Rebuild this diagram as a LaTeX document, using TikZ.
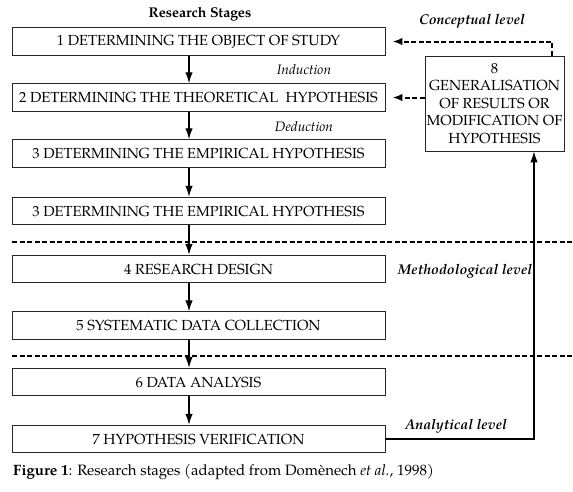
\documentclass[tikz,border=0pt]{standalone}
\usepackage{fontspec}
\setmainfont{TeX Gyre Pagella}
\usetikzlibrary{arrows.meta}
\tikzset{
  stagebox/.style={draw=black!85, line width=0.9pt, minimum width=373pt, minimum height=27.5pt, inner sep=0pt, font=\fontsize{14.6}{16}\selectfont},
  flow/.style={line width=1.3pt, -{Latex[length=11pt,width=7.5pt]}},
  dflow/.style={line width=2pt, dash pattern=on 5pt off 2.5pt, -{Latex[length=10pt,width=7.5pt]}},
  levelline/.style={line width=1.7pt, dash pattern=on 5pt off 2.5pt},
  lvl/.style={font=\fontsize{14.2}{16}\selectfont\bfseries\itshape},
  ded/.style={font=\fontsize{13.7}{15}\selectfont\itshape},
}
\begin{document}
\begin{tikzpicture}[x=1pt,y=-1pt]
\useasboundingbox (0,0) rectangle (573,491);
\node[font=\fontsize{14.1}{15}\selectfont\bfseries] (title) at (200,14) {Research Stages};
\node[stagebox] (s1) at (198.5,41.5) {1 DETERMINING THE OBJECT OF STUDY};
\node[stagebox] (s2) at (198.5,97.5) {2 DETERMINING THE THEORETICAL\ \ HYPOTHESIS};
\node[stagebox] (s3) at (198.5,153.5) {3 DETERMINING THE EMPIRICAL HYPOTHESIS};
\node[stagebox] (s3b) at (198.5,211) {3 DETERMINING THE EMPIRICAL HYPOTHESIS};
\node[stagebox] (s4) at (198.5,269) {4 RESEARCH DESIGN};
\node[stagebox] (s5) at (198.5,325.5) {5 SYSTEMATIC DATA COLLECTION};
\node[stagebox] (s6) at (198.5,382) {6 DATA ANALYSIS};
\node[stagebox] (s7) at (198.5,439) {7 HYPOTHESIS VERIFICATION};
\node[draw=black!85, line width=0.9pt, minimum width=139pt, minimum height=95pt, inner sep=0pt, align=center, font=\fontsize{14.6}{17.5}\selectfont] (s8) at (494.5,103.5) {8\\GENERALISATION\\OF RESULTS OR\\MODIFICATION OF\\HYPOTHESIS};
\node[ded] (ind) at (304,70) {Induction};
\node[ded] (dedu) at (304,127) {Deduction};
\node[lvl] (conc) at (472,21) {Conceptual level};
\node[lvl] (meth) at (465,271) {Methodological level};
\node[lvl] (anal) at (456,426) {Analytical level};
\node[font=\fontsize{15}{16}\selectfont, anchor=west, inner sep=0pt] (cap) at (13,472) {\textbf{Figure 1}: Research stages (adapted from Domènech \textit{et al.}, 1998)};
\coordinate (l1a) at (12,242);
\coordinate (l1b) at (573,242);
\coordinate (l2a) at (12,356);
\coordinate (l2b) at (573,356);
\draw[levelline] (l1a) -- (l1b);
\draw[levelline] (l2a) -- (l2b);
\foreach \a/\b in {s1/s2,s2/s3,s3/s3b,s3b/s4,s4/s5,s5/s6,s6/s7}
  \draw[flow] (\a.south -| 189,0) -- (\b.north -| 189,0);
\draw[dflow, shorten >=7pt] (s8.north -| 552,0) |- (s1.east);
\draw[dflow, shorten >=7pt] (s8.west |- s2.east) -- (s2.east);
\draw[line width=1.2pt, -{Latex[length=11pt,width=7.5pt]}] (s7.east) -| (s8.south -| 534,0);
\end{tikzpicture}
\end{document}
